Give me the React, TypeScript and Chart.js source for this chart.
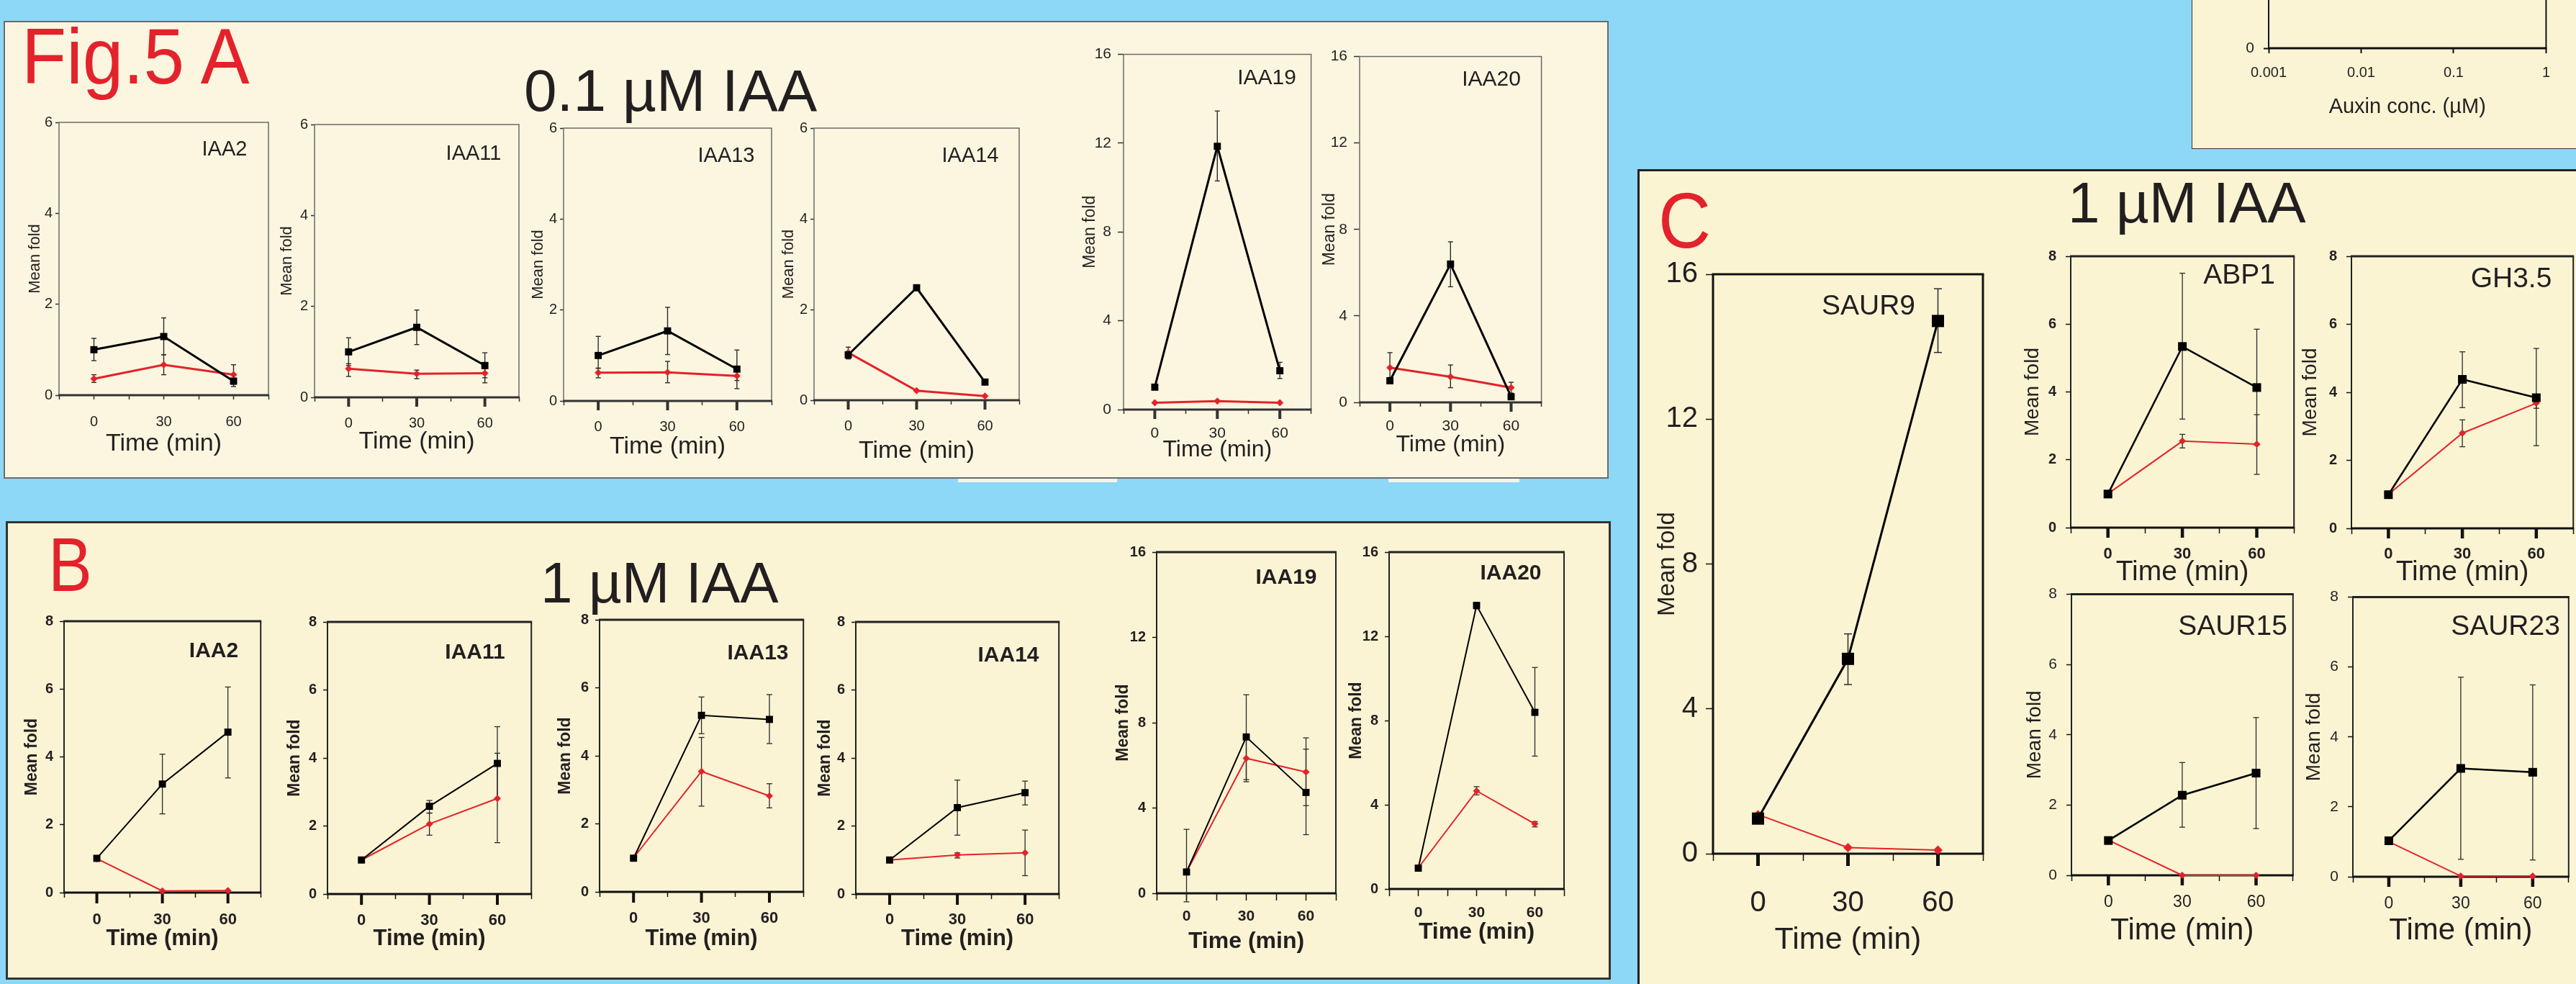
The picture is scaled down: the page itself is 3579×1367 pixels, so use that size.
import React, { useEffect, useRef } from "react";
import { Chart, registerables } from "chart.js";

Chart.register(...registerables);

// ---------------- shared axis content ----------------
const TIMES = [0, 30, 60];
const X_TICK_VALUES = [-15, 0, 15, 30, 45, 60, 75];
const X_TICK_LABELS = ["0", "30", "60"];
const MAJOR_TICKS = [0, 30, 60];
const Y_TITLE = "Mean fold";
const X_TITLE = "Time (min)";

// ---------------- Panel A : 0.1 µM IAA ----------------
const A_IAA2_black = [1.0, 1.29, 0.31];
const A_IAA2_blackErr = [[0.76, 1.25], [0.89, 1.7], [0.19, 0.45]];
const A_IAA2_red = [0.36, 0.67, 0.45];
const A_IAA2_redErr = [[0.28, 0.45], [0.45, 0.89], [0.24, 0.67]];

const A_IAA11_black = [1.0, 1.54, 0.7];
const A_IAA11_blackErr = [[0.7, 1.31], [1.16, 1.92], [0.32, 0.98]];
const A_IAA11_red = [0.63, 0.52, 0.53];
const A_IAA11_redErr = [[0.46, 0.74], [0.41, 0.6], [0.43, 0.63]];

const A_IAA13_black = [1.0, 1.54, 0.7];
const A_IAA13_blackErr = [[0.72, 1.42], [1.02, 2.06], [0.27, 1.12]];
const A_IAA13_red = [0.62, 0.63, 0.55];
const A_IAA13_redErr = [[0.51, 0.72], [0.4, 0.87], [0.45, 0.65]];

const A_IAA14_black = [1.0, 2.48, 0.4];
const A_IAA14_blackErr = [[0.91, 1.17], null, null];
const A_IAA14_red = [1.05, 0.21, 0.09];
const A_IAA14_redErr = [null, null, null];

const A_IAA19_black = [1.01, 11.86, 1.75];
const A_IAA19_blackErr = [null, [10.3, 13.45], [1.4, 2.13]];
const A_IAA19_red = [0.31, 0.38, 0.31];
const A_IAA19_redErr = [null, null, null];

const A_IAA20_black = [1.0, 6.4, 0.26];
const A_IAA20_blackErr = [null, [5.35, 7.43], null];
const A_IAA20_red = [1.61, 1.18, 0.68];
const A_IAA20_redErr = [[1.15, 2.3], [0.68, 1.73], [0.43, 0.93]];

// ---------------- Panel B : 1 µM IAA ----------------
const B_IAA2_black = [1.01, 3.2, 4.73];
const B_IAA2_blackErr = [null, [2.32, 4.08], [3.38, 6.06]];
const B_IAA2_red = [1.0, 0.05, 0.06];
const B_IAA2_redErr = [null, null, null];

const B_IAA11_black = [1.0, 2.58, 3.84];
const B_IAA11_blackErr = [null, [2.38, 2.75], [2.8, 4.92]];
const B_IAA11_red = [1.0, 2.06, 2.81];
const B_IAA11_redErr = [null, [1.73, 2.38], [1.51, 4.14]];

const B_IAA13_black = [0.99, 5.19, 5.07];
const B_IAA13_blackErr = [null, [4.65, 5.73], [4.36, 5.8]];
const B_IAA13_red = [1.0, 3.54, 2.82];
const B_IAA13_redErr = [null, [2.52, 4.54], [2.47, 3.18]];

const B_IAA14_black = [1.0, 2.54, 2.98];
const B_IAA14_blackErr = [null, [1.73, 3.35], [2.62, 3.32]];
const B_IAA14_red = [1.0, 1.15, 1.21];
const B_IAA14_redErr = [null, [1.06, 1.21], [0.54, 1.88]];

const B_IAA19_black = [1.0, 7.33, 4.73];
const B_IAA19_blackErr = [[-0.4, 3.0], [5.33, 9.31], [2.75, 7.29]];
const B_IAA19_red = [1.0, 6.33, 5.69];
const B_IAA19_redErr = [null, [5.23, 7.4], [4.11, 6.76]];

const B_IAA20_black = [0.99, 13.47, 8.39];
const B_IAA20_blackErr = [null, [13.3, 13.6], [6.31, 10.52]];
const B_IAA20_red = [1.0, 4.66, 3.09];
const B_IAA20_redErr = [null, [4.47, 4.86], [2.95, 3.2]];

// ---------------- Panel C : 1 µM IAA ----------------
const C_SAUR9_black = [0.97, 5.38, 14.71];
const C_SAUR9_blackErr = [null, [4.67, 6.07], [13.84, 15.6]];
const C_SAUR9_red = [1.08, 0.17, 0.1];
const C_SAUR9_redErr = [null, null, null];

const C_ABP1_black = [0.99, 5.34, 4.13];
const C_ABP1_blackErr = [null, [3.2, 7.5], [2.43, 5.85]];
const C_ABP1_red = [1.0, 2.55, 2.46];
const C_ABP1_redErr = [null, [2.35, 2.75], [1.57, 3.33]];

const C_GH35_black = [0.99, 4.38, 3.84];
const C_GH35_blackErr = [null, [3.55, 5.19], [2.43, 5.29]];
const C_GH35_red = [1.0, 2.8, 3.68];
const C_GH35_redErr = [null, [2.4, 3.19], [3.53, 3.84]];

const C_SAUR15_black = [0.99, 2.28, 2.91];
const C_SAUR15_blackErr = [null, [1.37, 3.21], [1.33, 4.49]];
const C_SAUR15_red = [1.0, 0.0, 0.0];
const C_SAUR15_redErr = [null, null, null];

const C_SAUR23_black = [1.03, 3.1, 2.99];
const C_SAUR23_blackErr = [null, [0.5, 5.71], [0.48, 5.49]];
const C_SAUR23_red = [1.0, 0.02, 0.02];
const C_SAUR23_redErr = [null, null, null];

// ---------------- Auxin-concentration panel (top right, cropped) ----------------
const AUXIN_X_TICKS = [0.001, 0.01, 0.1, 1];
const AUXIN_X_LABELS = ["0.001", "0.01", "0.1", "1"];
const AUXIN_X_TITLE = "Auxin conc. (\u00b5M)";

// ---------------- styling ----------------
const SANS = '"Liberation Sans", Arial, Helvetica, sans-serif';
const RED = "#E3222B";
const TEXT = "#231F20";
const ERR_COLOR = "#2b2b2b";

type Err = number[] | null;

interface Style {
  tickWeight: string;
  tickSizeY: number;
  tickSizeX: number;
  xTitleSize: number;
  xTitleWeight: string;
  yTitleSize: number;
  yTitleWeight: string;
  geneSize: number;
  geneWeight: string;
  axisColor: string;
  sideColor: string;
  sideW: number;
  topW: number;
  bottomW: number;
  yTL: number;
  yPad: number;
  xTL: number;
  majorLen: number;
  majorW: number;
  blackLW: number;
  redLW: number;
  sqR: number;
  diaR: number;
  errW: number;
  capHalf: number;
}

const ST_A: Style = {
  tickWeight: "normal", tickSizeY: 20, tickSizeX: 20,
  xTitleSize: 34, xTitleWeight: "normal", yTitleSize: 22, yTitleWeight: "normal",
  geneSize: 29, geneWeight: "normal",
  axisColor: "#333333", sideColor: "#6a6a6a", sideW: 1.5, topW: 1.5, bottomW: 3,
  yTL: 5, yPad: 4, xTL: 6, majorLen: 13, majorW: 4,
  blackLW: 3, redLW: 3, sqR: 7, diaR: 5, errW: 1.4, capHalf: 3.5,
};
const ST_A_IAA2: Style = { ...ST_A, majorLen: 0 };
const ST_A_TALL: Style = { ...ST_A, yTL: 8, yPad: 9, tickSizeY: 21, tickSizeX: 21, xTitleSize: 32, yTitleSize: 23, geneSize: 30 };

const ST_B: Style = {
  tickWeight: "bold", tickSizeY: 20, tickSizeX: 22,
  xTitleSize: 31, xTitleWeight: "bold", yTitleSize: 23, yTitleWeight: "bold",
  geneSize: 30, geneWeight: "bold",
  axisColor: "#111111", sideColor: "#222222", sideW: 2, topW: 3, bottomW: 3,
  yTL: 6, yPad: 9, xTL: 7, majorLen: 15, majorW: 4,
  blackLW: 2, redLW: 2, sqR: 7, diaR: 5, errW: 1.3, capHalf: 4,
};
const ST_B_TALL: Style = { ...ST_B, majorLen: 0, xTL: 10, xTitleSize: 32, tickSizeX: 21 };

const ST_C9: Style = {
  tickWeight: "normal", tickSizeY: 40, tickSizeX: 40,
  xTitleSize: 43, xTitleWeight: "normal", yTitleSize: 33, yTitleWeight: "normal",
  geneSize: 39, geneWeight: "normal",
  axisColor: "#111111", sideColor: "#111111", sideW: 3, topW: 3, bottomW: 3,
  yTL: 10, yPad: 11, xTL: 10, majorLen: 17, majorW: 5,
  blackLW: 3, redLW: 2, sqR: 12, diaR: 6.5, errW: 1.5, capHalf: 5.5,
};
const ST_CS_TOP: Style = {
  tickWeight: "bold", tickSizeY: 20, tickSizeX: 22,
  xTitleSize: 39, xTitleWeight: "normal", yTitleSize: 28, yTitleWeight: "normal",
  geneSize: 39, geneWeight: "normal",
  axisColor: "#111111", sideColor: "#222222", sideW: 2, topW: 3, bottomW: 3,
  yTL: 7, yPad: 13, xTL: 8, majorLen: 14, majorW: 4.5,
  blackLW: 2.5, redLW: 2, sqR: 8.5, diaR: 5, errW: 1.3, capHalf: 4,
};
const ST_CS_BOT: Style = { ...ST_CS_TOP, tickWeight: "normal", tickSizeY: 21, tickSizeX: 23, xTitleSize: 42, yTitleSize: 28 };

interface Spec {
  id: string;
  gene: string;
  plot: number[]; // left, top, right, bottom (page px)
  yMax: number;
  yStep: number;
  black: number[];
  blackErr: Err[];
  red: number[];
  redErr: Err[];
  yTitleX: number;
  xTickY: number;
  xTitleY: number;
  geneX: number;
  geneY: number;
  style: Style;
}

const SPECS: Spec[] = [
  // Panel A
  { id: "A2", gene: "IAA2", plot: [82, 170, 378, 549], yMax: 6, yStep: 2, black: A_IAA2_black, blackErr: A_IAA2_blackErr, red: A_IAA2_red, redErr: A_IAA2_redErr, yTitleX: 49, xTickY: 586, xTitleY: 617, geneX: 312, geneY: 206, style: ST_A_IAA2 },
  { id: "A11", gene: "IAA11", plot: [437, 173, 725, 552], yMax: 6, yStep: 2, black: A_IAA11_black, blackErr: A_IAA11_blackErr, red: A_IAA11_red, redErr: A_IAA11_redErr, yTitleX: 399, xTickY: 588, xTitleY: 614, geneX: 658, geneY: 212, style: ST_A },
  { id: "A13", gene: "IAA13", plot: [783, 178, 1076, 557], yMax: 6, yStep: 2, black: A_IAA13_black, blackErr: A_IAA13_blackErr, red: A_IAA13_red, redErr: A_IAA13_redErr, yTitleX: 748, xTickY: 593, xTitleY: 621, geneX: 1009, geneY: 215, style: ST_A },
  { id: "A14", gene: "IAA14", plot: [1131, 178, 1420, 556], yMax: 6, yStep: 2, black: A_IAA14_black, blackErr: A_IAA14_blackErr, red: A_IAA14_red, redErr: A_IAA14_redErr, yTitleX: 1096, xTickY: 592, xTitleY: 627, geneX: 1348, geneY: 215, style: ST_A },
  { id: "A19", gene: "IAA19", plot: [1561, 74, 1822, 569], yMax: 16, yStep: 4, black: A_IAA19_black, blackErr: A_IAA19_blackErr, red: A_IAA19_red, redErr: A_IAA19_redErr, yTitleX: 1515, xTickY: 602, xTitleY: 625, geneX: 1760, geneY: 106, style: ST_A_TALL },
  { id: "A20", gene: "IAA20", plot: [1889, 77, 2142, 559], yMax: 16, yStep: 4, black: A_IAA20_black, blackErr: A_IAA20_blackErr, red: A_IAA20_red, redErr: A_IAA20_redErr, yTitleX: 1848, xTickY: 592, xTitleY: 618, geneX: 2072, geneY: 108, style: ST_A_TALL },
  // Panel B
  { id: "B2", gene: "IAA2", plot: [89, 862, 366, 1240], yMax: 8, yStep: 2, black: B_IAA2_black, blackErr: B_IAA2_blackErr, red: B_IAA2_red, redErr: B_IAA2_redErr, yTitleX: 45, xTickY: 1278, xTitleY: 1304, geneX: 297, geneY: 902, style: ST_B },
  { id: "B11", gene: "IAA11", plot: [455, 863, 741, 1242], yMax: 8, yStep: 2, black: B_IAA11_black, blackErr: B_IAA11_blackErr, red: B_IAA11_red, redErr: B_IAA11_redErr, yTitleX: 410, xTickY: 1279, xTitleY: 1304, geneX: 660, geneY: 904, style: ST_B },
  { id: "B13", gene: "IAA13", plot: [833, 860, 1119, 1239], yMax: 8, yStep: 2, black: B_IAA13_black, blackErr: B_IAA13_blackErr, red: B_IAA13_red, redErr: B_IAA13_redErr, yTitleX: 786, xTickY: 1276, xTitleY: 1304, geneX: 1053, geneY: 905, style: ST_B },
  { id: "B14", gene: "IAA14", plot: [1189, 863, 1473, 1242], yMax: 8, yStep: 2, black: B_IAA14_black, blackErr: B_IAA14_blackErr, red: B_IAA14_red, redErr: B_IAA14_redErr, yTitleX: 1147, xTickY: 1278, xTitleY: 1304, geneX: 1401, geneY: 908, style: ST_B },
  { id: "B19", gene: "IAA19", plot: [1607, 766, 1856, 1241], yMax: 16, yStep: 4, black: B_IAA19_black, blackErr: B_IAA19_blackErr, red: B_IAA19_red, redErr: B_IAA19_redErr, yTitleX: 1561, xTickY: 1273, xTitleY: 1308, geneX: 1787, geneY: 800, style: ST_B_TALL },
  { id: "B20", gene: "IAA20", plot: [1930, 766, 2173, 1235], yMax: 16, yStep: 4, black: B_IAA20_black, blackErr: B_IAA20_blackErr, red: B_IAA20_red, redErr: B_IAA20_redErr, yTitleX: 1885, xTickY: 1268, xTitleY: 1295, geneX: 2099, geneY: 794, style: ST_B_TALL },
  // Panel C
  { id: "C9", gene: "SAUR9", plot: [2380, 376, 2776, 1186], yMax: 16, yStep: 4, black: C_SAUR9_black, blackErr: C_SAUR9_blackErr, red: C_SAUR9_red, redErr: C_SAUR9_redErr, yTitleX: 2317, xTickY: 1255, xTitleY: 1306, geneX: 2596, geneY: 423, style: ST_C9 },
  { id: "CABP1", gene: "ABP1", plot: [2877, 351, 3189, 733], yMax: 8, yStep: 2, black: C_ABP1_black, blackErr: C_ABP1_blackErr, red: C_ABP1_red, redErr: C_ABP1_redErr, yTitleX: 2824, xTickY: 770, xTitleY: 796, geneX: 3111, geneY: 380, style: ST_CS_TOP },
  { id: "CGH35", gene: "GH3.5", plot: [3267, 351, 3576, 734], yMax: 8, yStep: 2, black: C_GH35_black, blackErr: C_GH35_blackErr, red: C_GH35_red, redErr: C_GH35_redErr, yTitleX: 3210, xTickY: 770, xTitleY: 796, geneX: 3489, geneY: 385, style: ST_CS_TOP },
  { id: "C15", gene: "SAUR15", plot: [2878, 820, 3188, 1216], yMax: 8, yStep: 2, black: C_SAUR15_black, blackErr: C_SAUR15_blackErr, red: C_SAUR15_red, redErr: C_SAUR15_redErr, yTitleX: 2827, xTickY: 1254, xTitleY: 1294, geneX: 3102, geneY: 868, style: ST_CS_BOT },
  { id: "C23", gene: "SAUR23", plot: [3269, 824, 3571, 1218], yMax: 8, yStep: 2, black: C_SAUR23_black, blackErr: C_SAUR23_blackErr, red: C_SAUR23_red, redErr: C_SAUR23_redErr, yTitleX: 3215, xTickY: 1256, xTitleY: 1294, geneX: 3481, geneY: 868, style: ST_CS_BOT },
];

function seg(ctx: CanvasRenderingContext2D, x1: number, y1: number, x2: number, y2: number, w: number) {
  ctx.lineWidth = w;
  ctx.beginPath();
  ctx.moveTo(x1, y1);
  ctx.lineTo(x2, y2);
  ctx.stroke();
}

function xTickLabel(v: number) {
  const i = MAJOR_TICKS.indexOf(v);
  return i >= 0 ? X_TICK_LABELS[i] : "";
}

function MiniChart({ spec }: { spec: Spec }) {
  const ref = useRef<HTMLCanvasElement | null>(null);
  const st = spec.style;
  const [l, t, r, b] = spec.plot;
  const padTop = Math.max(20, Math.ceil(st.tickSizeY * 0.75));
  const padRight = 14;
  const cl = Math.round(spec.yTitleX - 0.6 * st.yTitleSize);
  const ct = t - padTop;
  const cr = r + padRight;
  const cb = Math.round(spec.xTitleY + 0.6 * st.xTitleSize);
  const W = cr - cl;
  const H = cb - ct;
  const LW = l - cl;
  const XH = cb - b;
  const xTickPad = spec.xTickY - b - st.xTL - 0.6 * st.tickSizeX;
  const geneXc = spec.geneX - cl;
  const geneYc = spec.geneY - ct;

  useEffect(() => {
    const canvas = ref.current;
    if (!canvas) return;
    const decor = {
      id: "decor",
      beforeDatasetsDraw(chart: any) {
        const { ctx, chartArea: a, scales } = chart;
        const xs = scales.x;
        const ys = scales.y;
        ctx.save();
        ctx.lineCap = "butt";
        ctx.strokeStyle = st.sideColor;
        seg(ctx, a.left, a.top, a.left, a.bottom, st.sideW);
        seg(ctx, a.right, a.top, a.right, a.bottom, st.sideW);
        seg(ctx, a.left - st.sideW / 2, a.top, a.right + st.sideW / 2, a.top, st.topW);
        ctx.strokeStyle = st.axisColor;
        seg(ctx, a.left - st.sideW / 2, a.bottom, a.right + st.sideW / 2, a.bottom, st.bottomW);
        if (st.majorLen > 0) {
          ctx.fillStyle = st.axisColor;
          for (const v of MAJOR_TICKS) {
            const px = xs.getPixelForValue(v);
            ctx.fillRect(px - st.majorW / 2, a.bottom, st.majorW, st.majorLen);
          }
        }
        ctx.strokeStyle = ERR_COLOR;
        chart.data.datasets.forEach((ds: any) => {
          (ds.errs || []).forEach((e: Err, i: number) => {
            if (!e) return;
            const x = xs.getPixelForValue(TIMES[i]);
            const y1 = ys.getPixelForValue(e[0]);
            const y2 = ys.getPixelForValue(e[1]);
            seg(ctx, x, y1, x, y2, st.errW);
            seg(ctx, x - st.capHalf, y1, x + st.capHalf, y1, st.errW);
            seg(ctx, x - st.capHalf, y2, x + st.capHalf, y2, st.errW);
          });
        });
        ctx.restore();
      },
      afterDatasetsDraw(chart: any) {
        const ctx = chart.ctx;
        ctx.save();
        ctx.font = `${st.geneWeight} ${st.geneSize}px ${SANS}`;
        ctx.textAlign = "center";
        ctx.textBaseline = "alphabetic";
        ctx.fillStyle = TEXT;
        ctx.fillText(spec.gene, geneXc, geneYc + 0.358 * st.geneSize);
        ctx.restore();
      },
    };

    const chart = new Chart(canvas, {
      type: "line",
      data: {
        datasets: [
          {
            label: "black",
            data: TIMES.map((x, i) => ({ x, y: spec.black[i] })),
            borderColor: "#000000",
            backgroundColor: "#000000",
            borderWidth: st.blackLW,
            pointStyle: "rect",
            pointRadius: st.sqR,
            pointBorderWidth: 0,
            pointBackgroundColor: "#000000",
            clip: false,
            order: 0,
            errs: spec.blackErr,
          } as any,
          {
            label: "red",
            data: TIMES.map((x, i) => ({ x, y: spec.red[i] })),
            borderColor: RED,
            backgroundColor: RED,
            borderWidth: st.redLW,
            pointStyle: "rectRot",
            pointRadius: st.diaR,
            pointBorderWidth: 0,
            pointBackgroundColor: RED,
            clip: false,
            order: 1,
            errs: spec.redErr,
          } as any,
        ],
      },
      options: {
        responsive: false,
        maintainAspectRatio: false,
        animation: false,
        devicePixelRatio: 1,
        layout: { padding: { left: 0, top: padTop, right: padRight, bottom: 0 } },
        plugins: { legend: { display: false }, tooltip: { enabled: false }, title: { display: false } },
        scales: {
          x: {
            type: "linear",
            position: "bottom",
            min: -15,
            max: 75,
            afterBuildTicks: (s: any) => {
              s.ticks = X_TICK_VALUES.map((v) => ({ value: v }));
            },
            afterFit: (s: any) => {
              s.height = XH;
            },
            ticks: {
              autoSkip: false,
              maxRotation: 0,
              padding: xTickPad,
              color: TEXT,
              font: { family: SANS, size: st.tickSizeX, weight: st.tickWeight as any },
              callback: (v: any) => xTickLabel(Number(v)),
            },
            grid: { drawOnChartArea: false, drawTicks: true, tickLength: st.xTL, tickWidth: 1.5, tickColor: st.axisColor },
            border: { display: false },
            title: {
              display: true,
              text: X_TITLE,
              color: TEXT,
              padding: 0,
              font: { family: SANS, size: st.xTitleSize, weight: st.xTitleWeight as any },
            },
          },
          y: {
            type: "linear",
            min: 0,
            max: spec.yMax,
            afterFit: (s: any) => {
              s.width = LW;
            },
            ticks: {
              stepSize: spec.yStep,
              padding: st.yPad,
              color: TEXT,
              font: { family: SANS, size: st.tickSizeY, weight: st.tickWeight as any },
              callback: (v: any) => String(v),
            },
            grid: { drawOnChartArea: false, drawTicks: true, tickLength: st.yTL, tickWidth: 1.5, tickColor: st.axisColor },
            border: { display: false },
            title: {
              display: true,
              text: Y_TITLE,
              color: TEXT,
              padding: 0,
              font: { family: SANS, size: st.yTitleSize, weight: st.yTitleWeight as any },
            },
          },
        },
      } as any,
      plugins: [decor],
    });
    return () => chart.destroy();
  }, []);

  return (
    <canvas
      ref={ref}
      width={W}
      height={H}
      style={{ position: "absolute", left: cl, top: ct, width: W, height: H }}
    />
  );
}

// Cropped auxin-concentration chart in the top-right corner
const AUXIN_PLOT = [3152, -400, 3538, 67];

function AuxinChart() {
  const ref = useRef<HTMLCanvasElement | null>(null);
  const [l, t, r, b] = AUXIN_PLOT;
  const padTop = 20;
  const padRight = 20;
  const cl = 3098;
  const ct = t - padTop;
  const titleSize = 29;
  const tickSize = 20;
  const cb = Math.round(149 + 0.6 * titleSize);
  const W = r + padRight - cl;
  const H = cb - ct;
  const LW = l - cl;
  const XH = cb - b;
  const xTickPad = 101 - b - 7 - 0.6 * tickSize;

  useEffect(() => {
    const canvas = ref.current;
    if (!canvas) return;
    const decor = {
      id: "decorAuxin",
      beforeDatasetsDraw(chart: any) {
        const { ctx, chartArea: a } = chart;
        ctx.save();
        ctx.strokeStyle = "#111111";
        seg(ctx, a.left, a.top, a.left, a.bottom, 2);
        seg(ctx, a.right, a.top, a.right, a.bottom, 2);
        seg(ctx, a.left - 1, a.bottom, a.right + 1, a.bottom, 3);
        ctx.restore();
      },
    };
    const chart = new Chart(canvas, {
      type: "line",
      data: { datasets: [] },
      options: {
        responsive: false,
        maintainAspectRatio: false,
        animation: false,
        devicePixelRatio: 1,
        layout: { padding: { left: 0, top: padTop, right: padRight, bottom: 0 } },
        plugins: { legend: { display: false }, tooltip: { enabled: false } },
        scales: {
          x: {
            type: "logarithmic",
            min: 0.001,
            max: 1,
            afterBuildTicks: (s: any) => {
              s.ticks = AUXIN_X_TICKS.map((v) => ({ value: v }));
            },
            afterFit: (s: any) => {
              s.height = XH;
            },
            ticks: {
              autoSkip: false,
              maxRotation: 0,
              padding: xTickPad,
              color: TEXT,
              font: { family: SANS, size: tickSize },
              callback: (v: any) => {
                const i = AUXIN_X_TICKS.indexOf(Number(v));
                return i >= 0 ? AUXIN_X_LABELS[i] : "";
              },
            },
            grid: { drawOnChartArea: false, drawTicks: true, tickLength: 7, tickWidth: 2, tickColor: "#111111" },
            border: { display: false },
            title: { display: true, text: AUXIN_X_TITLE, color: TEXT, padding: 0, font: { family: SANS, size: titleSize } },
          },
          y: {
            type: "linear",
            min: 0,
            max: 4,
            afterFit: (s: any) => {
              s.width = LW;
            },
            ticks: { stepSize: 1, padding: 13, color: TEXT, font: { family: SANS, size: 21 } },
            grid: { drawOnChartArea: false, drawTicks: true, tickLength: 7, tickWidth: 2, tickColor: "#111111" },
            border: { display: false },
          },
        },
      } as any,
      plugins: [decor],
    });
    return () => chart.destroy();
  }, []);

  return (
    <canvas
      ref={ref}
      width={W}
      height={H}
      style={{ position: "absolute", left: cl, top: ct, width: W, height: H }}
    />
  );
}

function Label(props: { text: string; left: number; baseline: number; size: number; color?: string; sx?: number }) {
  const { text, left, baseline, size, color = TEXT, sx = 1 } = props;
  return (
    <div
      style={{
        position: "absolute",
        left,
        top: baseline - 0.8465 * size,
        fontFamily: SANS,
        fontSize: size,
        lineHeight: `${size}px`,
        color,
        whiteSpace: "nowrap",
        transform: sx !== 1 ? `scaleX(${sx})` : undefined,
        transformOrigin: "left top",
      }}
    >
      {text}
    </div>
  );
}

function Box(props: { left: number; top: number; width: number; height: number; border: string; bg: string }) {
  const { left, top, width, height, border, bg } = props;
  return (
    <div
      style={{
        position: "absolute",
        left,
        top,
        width,
        height,
        boxSizing: "border-box",
        border,
        background: bg,
      }}
    />
  );
}

export default function App() {
  return (
    <div
      style={{
        position: "absolute",
        left: 0,
        top: 0,
        width: 3579,
        height: 1367,
        overflow: "hidden",
        background: "#8DD8F7",
      }}
    >
      <Box left={3045} top={-10} width={560} height={217} border="1.5px solid #333" bg="#FAF4D4" />
      <Box left={5} top={29} width={2230} height={636} border="2px solid #6b6b6b" bg="#FCF6E0" />
      <div style={{ position: "absolute", left: 1331, top: 665, width: 221, height: 5, background: "#F4F4F0" }} />
      <div style={{ position: "absolute", left: 1929, top: 665, width: 182, height: 5, background: "#F4F4F0" }} />
      <Box left={8} top={724} width={2230} height={637} border="3px solid #333" bg="#FAF4D4" />
      <Box left={2275} top={235} width={1330} height={1160} border="3px solid #222" bg="#FAF4D3" />

      <Label text="Fig.5 A" left={30} baseline={116} size={110} color={RED} sx={0.925} />
      <Label text={"0.1 \u00b5M IAA"} left={728} baseline={154} size={82} />
      <Label text="B" left={67} baseline={821} size={106} color={RED} sx={0.86} />
      <Label text={"1 \u00b5M IAA"} left={751} baseline={838} size={80} />
      <Label text="C" left={2304} baseline={344} size={110} color={RED} sx={0.92} />
      <Label text={"1 \u00b5M IAA"} left={2873} baseline={310} size={80} />

      <AuxinChart />
      {SPECS.map((s) => (
        <MiniChart key={s.id} spec={s} />
      ))}
    </div>
  );
}
